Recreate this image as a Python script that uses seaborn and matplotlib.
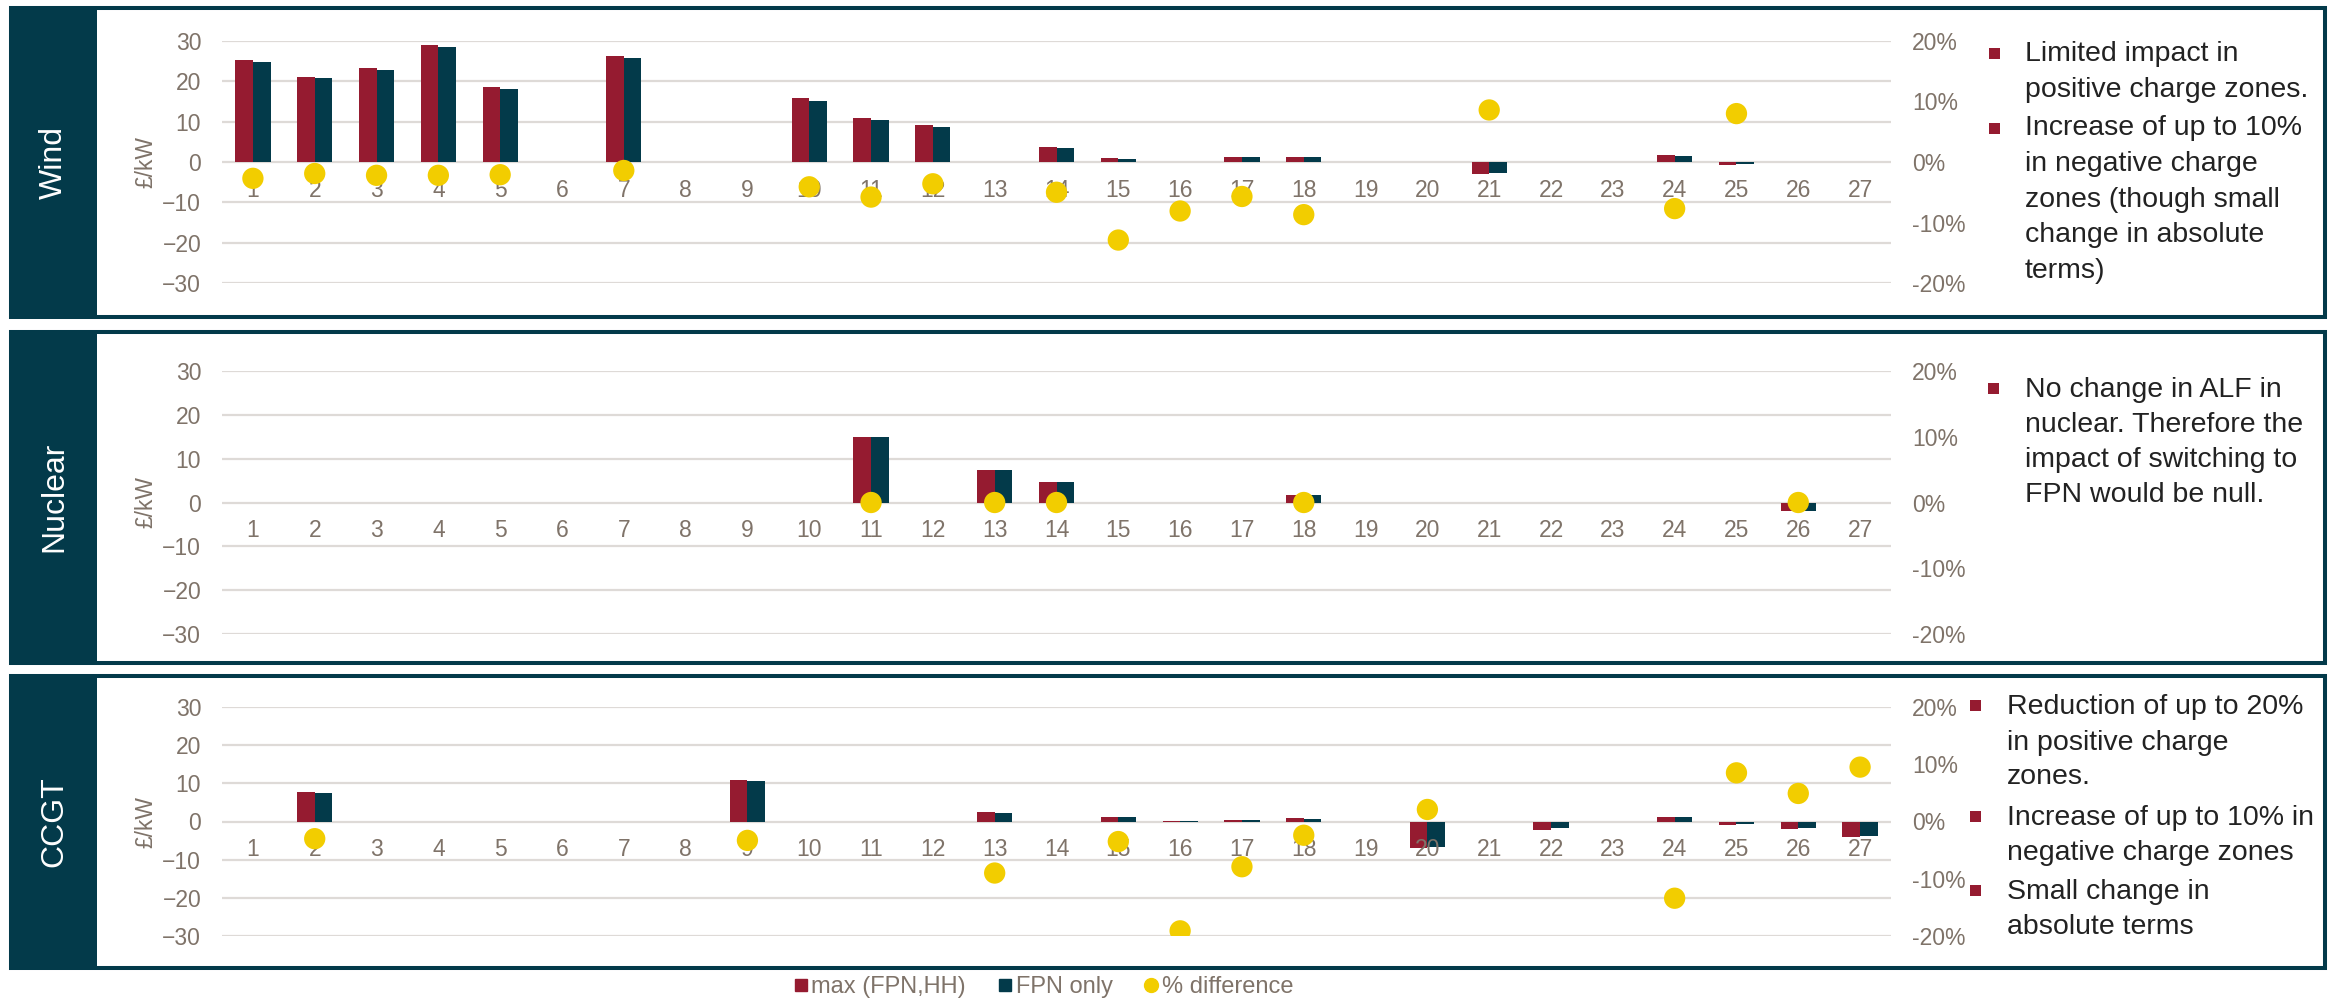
import numpy as np
import pandas as pd
import matplotlib
matplotlib.use("Agg")
import matplotlib.pyplot as plt
import seaborn as sns
from matplotlib.patches import Rectangle
from matplotlib.lines import Line2D
from matplotlib.ticker import FuncFormatter

# ---------------------------------------------------------------- data
zones = [str(i) for i in range(1, 28)]
nan = np.nan

wind_max = [25.4, 21.1, 23.3, 29.1, 18.6, nan, 26.2, nan, nan, 15.8, 10.9, 9.2, nan, 3.7,
            1.0, nan, 1.25, 1.2, nan, nan, -2.9, nan, nan, 1.7, -0.8, nan, nan]
wind_fpn = [24.75, 20.75, 22.75, 28.4, 18.2, nan, 25.8, nan, nan, 15.2, 10.3, 8.8, nan, 3.4,
            0.8, nan, 1.2, 1.2, nan, nan, -2.7, nan, nan, 1.4, -0.6, nan, nan]
wind_pct = [-2.7, -1.9, -2.2, -2.2, -2.1, nan, -1.4, nan, nan, -4.1, -5.8, -3.6, nan, -5.0,
            -12.9, -8.1, -5.7, -8.7, nan, nan, 8.6, nan, nan, -7.7, 8.0, nan, nan]

nuclear_max = [nan, nan, nan, nan, nan, nan, nan, nan, nan, nan, 14.9, nan, 7.5, 4.7,
               nan, nan, nan, 1.8, nan, nan, nan, nan, nan, nan, nan, -1.9, nan]
nuclear_fpn = [nan, nan, nan, nan, nan, nan, nan, nan, nan, nan, 14.9, nan, 7.5, 4.7,
               nan, nan, nan, 1.8, nan, nan, nan, nan, nan, nan, nan, -1.9, nan]
nuclear_pct = [nan, nan, nan, nan, nan, nan, nan, nan, nan, nan, 0.0, nan, 0.0, 0.0,
               nan, nan, nan, 0.0, nan, nan, nan, nan, nan, nan, nan, 0.0, nan]

ccgt_max = [nan, 7.8, nan, nan, nan, nan, nan, nan, 10.9, nan, nan, nan, 2.4, nan,
            1.05, 0.2, 0.5, 0.8, nan, -6.9, nan, -2.1, nan, 1.3, -0.9, -1.9, -4.0]
ccgt_fpn = [nan, 7.5, nan, nan, nan, nan, nan, nan, 10.5, nan, nan, nan, 2.1, nan,
            1.05, 0.15, 0.45, 0.7, nan, -6.7, nan, -1.6, nan, 1.05, -0.7, -1.7, -3.7]
ccgt_pct = [nan, -3.0, nan, nan, nan, nan, nan, nan, -3.3, nan, nan, nan, -9.0, nan,
            -3.5, -19.1, -7.9, -2.4, nan, 2.1, nan, nan, nan, -13.4, 8.5, 4.9, 9.5]

series_names = ["max (FPN,HH)", "FPN only"]
pct_name = "% difference"
left_ticks = [-30, -20, -10, 0, 10, 20, 30]
right_ticks = [-20, -10, 0, 10, 20]

wind_notes = [["Limited impact in", "positive charge zones."],
              ["Increase of up to 10%", "in negative charge", "zones (though small",
               "change in absolute", "terms)"]]
nuclear_notes = [["No change in ALF in", "nuclear. Therefore the",
                  "impact of switching to", "FPN would be null."]]
ccgt_notes = [["Reduction of up to 20%", "in positive charge", "zones."],
              ["Increase of up to 10% in", "negative charge zones"],
              ["Small change in", "absolute terms"]]

# ---------------------------------------------------------------- style
RED = "#951B30"
TEAL = "#033A4A"
YELLOW = "#F2CD00"
GREY = "#7F7369"
GRID = "#DEDAD7"
INK = "#222222"

sns.set_theme(style="white")
plt.rcParams["font.family"] = ["Liberation Sans", "DejaVu Sans"]

W, H = 2336, 1001
fig = plt.figure(figsize=(W / 100, H / 100), dpi=100)
fig.patch.set_facecolor("white")


def fx(px):
    return px / W


def fy(py):
    return 1 - py / H


def draw_panel(name, vmax, vfpn, pct, frame, plot, notes, text_x, bullet_x, line_y, bullet_y):
    f_top, f_bot = frame
    # frame and side band
    fig.add_artist(Rectangle((fx(11), fy(f_bot)), fx(2325 - 11), (f_bot - f_top) / H,
                             transform=fig.transFigure, facecolor="none",
                             edgecolor=TEAL, linewidth=2.9, zorder=1))
    fig.add_artist(Rectangle((fx(11), fy(f_bot + 2)), fx(86), (f_bot - f_top + 4) / H,
                             transform=fig.transFigure, facecolor=TEAL,
                             edgecolor="none", zorder=2))
    fig.text(fx(54), fy((f_top + f_bot) / 2), name, rotation=90, color="white",
             fontsize=23, ha="center", va="center")

    p_top, p_bot = plot
    left, right = 222, 1891
    ax = fig.add_axes([fx(left), fy(p_bot), fx(right - left), (p_bot - p_top) / H])
    df = pd.DataFrame({
        "zone": zones * 2,
        "value": list(vmax) + list(vfpn),
        "series": [series_names[0]] * 27 + [series_names[1]] * 27,
    }).dropna()
    sns.barplot(data=df, x="zone", y="value", hue="series", order=zones,
                hue_order=series_names, palette=[RED, TEAL], saturation=1,
                width=0.57, errorbar=None, legend=False, ax=ax, zorder=3,
                linewidth=0, edgecolor="none")
    ax.set_xlim(-0.5, 26.5)
    ax.set_ylim(-30, 30)
    ax.set_yticks(left_ticks)
    ax.yaxis.grid(True, color=GRID, linewidth=1.6)
    ax.set_axisbelow(True)
    for s in ax.spines.values():
        s.set_visible(False)
    ax.tick_params(axis="x", length=0, labelbottom=False)
    ax.tick_params(axis="y", length=0, pad=15, labelsize=16.5, labelcolor=GREY)
    ax.set_xlabel("")
    ax.set_ylabel("£/kW", fontsize=16.5, color=GREY)
    ax.yaxis.set_label_coords(-0.039, 0.5)
    ax.patch.set_alpha(0)

    # % difference on the secondary scale; zone labels sit on this axis so
    # they stay readable above the dots
    ax2 = ax.twinx()
    pts = pd.DataFrame({"pos": np.arange(27), "pct": pct}).dropna()
    sns.scatterplot(data=pts, x="pos", y="pct", color=YELLOW, s=235,
                    edgecolor="none", linewidth=0, ax=ax2, zorder=2, legend=False)
    ax2.set_xlim(-0.5, 26.5)
    ax2.set_ylim(-20, 20)
    ax2.set_yticks(right_ticks)
    ax2.yaxis.set_major_formatter(FuncFormatter(lambda v, _: f"{v:.0f}%"))
    for s in ax2.spines.values():
        s.set_visible(False)
    ax2.xaxis.set_visible(True)
    ax2.spines["bottom"].set_position(("data", 0))
    ax2.tick_params(axis="x", length=0, pad=12, labelsize=16.5, labelcolor=GREY,
                    labelbottom=True)
    ax2.tick_params(axis="y", length=0, pad=15, labelsize=16.5, labelcolor=GREY)
    ax2.set_xlabel("")
    ax2.set_ylabel("")

    # bullet notes
    k = 0
    for b, block in enumerate(notes):
        by = bullet_y[b]
        fig.add_artist(Rectangle((fx(bullet_x - 5.5), fy(by + 5.5)), fx(11), 11 / H,
                                 transform=fig.transFigure, facecolor=RED,
                                 edgecolor="none", zorder=3))
        for line in block:
            fig.text(fx(text_x), fy(line_y[k]), line, fontsize=20.5, color=INK,
                     ha="left", va="center")
            k += 1


draw_panel("Wind", wind_max, wind_fpn, wind_pct, (8, 317), (41, 283), wind_notes,
           2025, 1994, [54, 90, 128, 164, 200, 235, 271], [53, 128])
draw_panel("Nuclear", nuclear_max, nuclear_fpn, nuclear_pct, (332, 662.5), (371, 634),
           nuclear_notes, 2025, 1993, [390, 425, 460, 495], [388])
draw_panel("CCGT", ccgt_max, ccgt_fpn, ccgt_pct, (676, 968), (707, 936), ccgt_notes,
           2007, 1975, [707, 743, 777, 818, 853, 892, 927], [705, 816, 890])

handles = [
    Line2D([], [], marker="s", linestyle="none", color=RED, markersize=8),
    Line2D([], [], marker="s", linestyle="none", color=TEAL, markersize=8),
    Line2D([], [], marker="o", linestyle="none", color=YELLOW, markersize=10),
]
fig.legend(handles, series_names + [pct_name], loc="center", ncol=3,
           bbox_to_anchor=(fx(1043), fy(987)), frameon=False, fontsize=17,
           labelcolor=GREY, handletextpad=0.1, columnspacing=1.3, handlelength=0.7,
           borderpad=0)

fig.savefig("out.png", dpi=100, facecolor="white")
